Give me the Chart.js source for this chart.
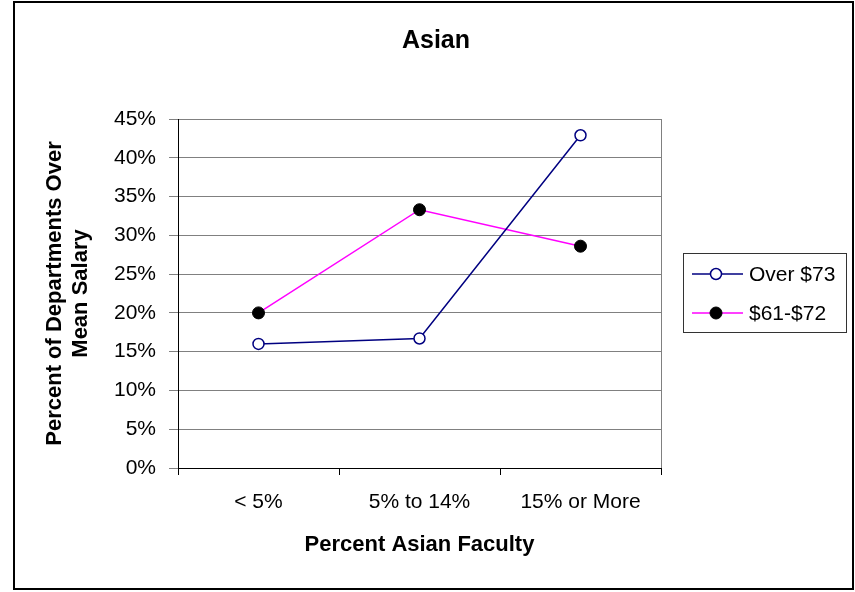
<!DOCTYPE html>
<html>
<head>
<meta charset="utf-8">
<script src="https://cdn.jsdelivr.net/npm/chart.js@4"></script>
<style>
  html, body { margin: 0; padding: 0; background: #fff; }
  #wrap { width: 855px; height: 592px; }
</style>
</head>
<body>
<div id="wrap"><canvas id="c" width="855" height="592"></canvas></div>
<script>
// Share of departments above mean salary, by percent Asian faculty
const categories = ['< 5%', '5% to 14%', '15% or More'];
const over73 = [16.0, 16.7, 42.9];
const mid61to72 = [20.0, 33.3, 28.6];
const seriesNames = ['Over $73', '$61-$72'];
const yTicks = [0, 5, 10, 15, 20, 25, 30, 35, 40, 45];

const FONT = '"Liberation Sans", Arial, Helvetica, sans-serif';

// Outer frame, plot right edge and boxed legend
const decorations = {
  id: 'decorations',
  afterDraw(chart) {
    const ctx = chart.ctx;
    const area = chart.chartArea;
    ctx.save();
    // plot area right edge
    ctx.strokeStyle = '#808080';
    ctx.lineWidth = 1;
    ctx.beginPath();
    ctx.moveTo(Math.round(area.right) + 0.5, area.top);
    ctx.lineTo(Math.round(area.right) + 0.5, area.bottom);
    ctx.stroke();
    // outer frame
    ctx.strokeStyle = '#000';
    ctx.lineWidth = 2;
    ctx.strokeRect(14, 2, 839, 587);
    // legend box
    ctx.lineWidth = 1;
    ctx.strokeStyle = '#333';
    ctx.strokeRect(683.5, 253.5, 163, 79);
    chart.data.datasets.forEach((ds, i) => {
      const y = 274 + i * 39;
      ctx.strokeStyle = ds.borderColor;
      ctx.lineWidth = ds.borderWidth;
      ctx.beginPath();
      ctx.moveTo(692, y);
      ctx.lineTo(743, y);
      ctx.stroke();
      ctx.beginPath();
      ctx.arc(716, y, ds.pointRadius, 0, Math.PI * 2);
      ctx.fillStyle = ds.pointBackgroundColor;
      ctx.fill();
      ctx.lineWidth = ds.pointBorderWidth;
      ctx.strokeStyle = ds.pointBorderColor;
      ctx.stroke();
      ctx.fillStyle = '#000';
      ctx.font = '21px ' + FONT;
      ctx.textAlign = 'left';
      ctx.textBaseline = 'middle';
      ctx.fillText(ds.label, 749, y + 1);
    });
    ctx.restore();
  }
};

new Chart(document.getElementById('c'), {
  type: 'line',
  data: {
    labels: categories,
    datasets: [
      {
        label: seriesNames[0],
        data: over73,
        borderColor: '#000080',
        borderWidth: 1.5,
        pointRadius: 5.5,
        pointBorderWidth: 1.5,
        pointBackgroundColor: '#ffffff',
        pointBorderColor: '#000080',
        tension: 0
      },
      {
        label: seriesNames[1],
        data: mid61to72,
        borderColor: '#ff00ff',
        borderWidth: 1.5,
        pointRadius: 6,
        pointBorderWidth: 1,
        pointBackgroundColor: '#000000',
        pointBorderColor: '#000000',
        tension: 0
      }
    ]
  },
  options: {
    responsive: false,
    animation: false,
    layout: { padding: { left: 17, top: 0, right: 0, bottom: 0 } },
    plugins: {
      legend: { display: false },
      tooltip: { enabled: false },
      title: {
        display: true,
        text: 'Asian',
        color: '#000',
        font: { family: FONT, size: 25, weight: 'bold', lineHeight: 1.2 },
        padding: { top: 26, bottom: 63 }
      }
    },
    scales: {
      x: {
        type: 'category',
        offset: true,
        afterFit(scale) { scale.height = 124; },
        grid: {
          offset: true,
          drawOnChartArea: false,
          drawTicks: true,
          tickLength: 7,
          color: '#000'
        },
        border: { display: true, color: '#000', width: 1 },
        ticks: {
          color: '#000',
          padding: 15,
          maxRotation: 0,
          font: { family: FONT, size: 21 }
        },
        title: {
          display: true,
          text: 'Percent Asian Faculty',
          color: '#000',
          font: { family: FONT, size: 22, weight: 'bold', lineHeight: 1.2 },
          padding: { top: 0, bottom: 34 }
        }
      },
      y: {
        min: 0,
        max: 45,
        afterFit(scale) { scale.width = 161; },
        afterBuildTicks(scale) { scale.ticks = yTicks.map(v => ({ value: v })); },
        grid: {
          color: '#808080',
          lineWidth: 1,
          drawTicks: true,
          tickLength: 9
        },
        border: { display: true, color: '#000', width: 1 },
        ticks: {
          color: '#000',
          padding: 13,
          font: { family: FONT, size: 21 },
          callback: v => v + '%'
        },
        title: {
          display: true,
          text: ['Percent of Departments Over', 'Mean Salary'],
          color: '#000',
          font: { family: FONT, size: 22, weight: 'bold', lineHeight: 1.18 },
          padding: { top: 25, bottom: 0 }
        }
      },
      // empty right-hand band that holds the legend
      side: {
        type: 'linear',
        position: 'right',
        min: 0,
        max: 1,
        afterFit(scale) { scale.width = 194; },
        grid: { display: false },
        border: { display: false },
        ticks: { display: false },
        title: { display: false }
      }
    }
  },
  plugins: [decorations]
});
</script>
</body>
</html>
